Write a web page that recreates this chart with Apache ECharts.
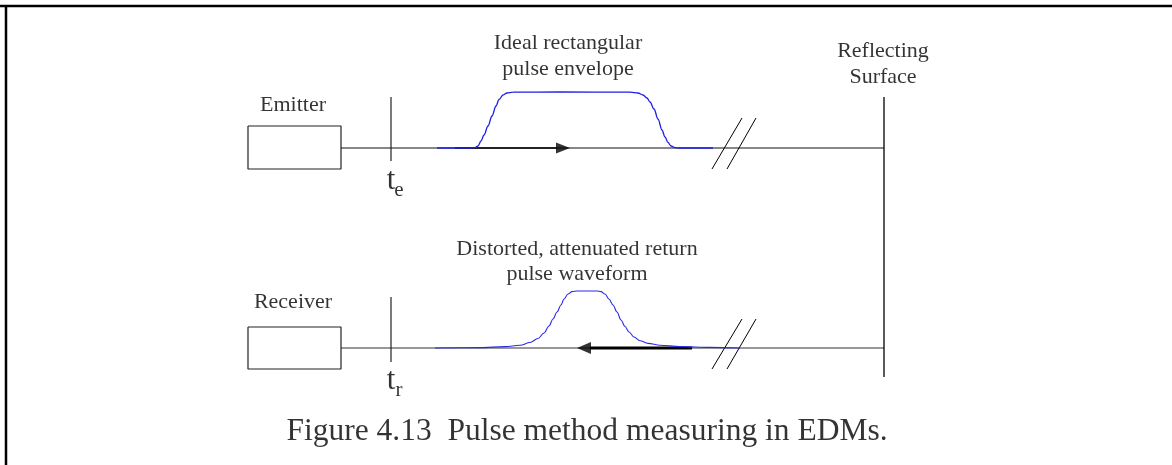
<!DOCTYPE html>
<html>
<head>
<meta charset="utf-8">
<script src="https://cdn.jsdelivr.net/npm/echarts@6/dist/echarts.min.js"></script>
<style>
html,body{margin:0;padding:0;background:#fff;}
#c{width:1172px;height:465px;}
</style>
</head>
<body>
<div id="c"></div>
<script>
// ---- diagram data (in page-pixel units) ----
const frameTop = [[0, 6], [1172, 6]];
const frameLeft = [[6, 6], [6, 465]];
const emitterBox = [[248, 126], [341, 126], [341, 169], [248, 169], [248, 126]];
const receiverBox = [[248, 327], [341, 327], [341, 369], [248, 369], [248, 327]];
const outgoingPath = [[341, 148], [884, 148]];
const returnPath = [[341, 348], [884, 348]];
const reflector = [[884, 97], [884, 377]];
const emitMarker = [[391, 97], [391, 161]];
const recvMarker = [[391, 297], [391, 362]];
const breakTopA = [[712, 169], [742, 118]];
const breakTopB = [[727, 169], [756, 118]];
const breakBotA = [[712, 369], [742, 319]];
const breakBotB = [[727, 369], [756, 319]];
const outgoingShaft = [[455, 148], [557, 148]];
const returnShaft = [[590, 348], [692, 348]];
const outgoingArrowTip = [[563, 148]];
const returnArrowTip = [[584, 348]];

const pulseEnvelope = [
  [437, 148], [470, 148], [475, 147.6], [478, 146], [481, 141], [484, 135], [488, 126],
  [492, 116], [496, 106], [499, 99.5], [503, 95], [507, 93], [513, 92.2], [560, 92],
  [630, 92.2], [638, 93], [643, 95], [647, 98], [650, 102], [654, 109], [658, 119],
  [662, 130], [665, 137], [668, 142.5], [671, 146], [675, 147.6], [680, 148], [713, 148]
];
const returnPulse = [
  [435, 348], [480, 347.6], [505, 346.6], [520, 345.3], [530, 342.5], [538, 338.5],
  [544, 333], [549, 326], [553, 319], [557, 312], [561, 305], [564, 299], [568, 294],
  [572, 291.6], [577, 291], [597, 291], [601, 291.6], [605, 294], [609, 299], [613, 305],
  [617, 312], [621, 320], [625, 326.5], [629, 332], [634, 337], [640, 340.8], [648, 343.4],
  [660, 345.2], [680, 346.6], [710, 347.4], [740, 348]
];

const smallLabels = ['Emitter', 'Receiver', 'Ideal rectangular', 'pulse envelope',
  'Reflecting', 'Surface', 'Distorted, attenuated return', 'pulse waveform'];
const smallLabelAt = [[293, 105.5], [293, 302], [568, 43.5], [568, 69.5],
  [883, 51], [883, 77], [577, 249], [577, 274.5]];
const timeLabels = ['t', 't'];
const timeLabelAt = [[391, 181], [391, 381]];
const timeSubs = ['e', 'r'];
const timeSubAt = [[399, 190], [399, 390]];
const captionText = 'Figure 4.13  Pulse method measuring in EDMs.';
const captionAt = [[587, 432]];

// ---- build chart ----
const FONT = '"Liberation Serif", "Times New Roman", serif';
function seg(points, color, width, z, smooth) {
  return {
    type: 'line', data: points, symbol: 'none', silent: true, animation: false,
    smooth: smooth || false, smoothMonotone: 'x',
    lineStyle: { color: color, width: width, cap: 'butt' }, z: z || 2
  };
}
function texts(list, at, size) {
  return {
    type: 'scatter', symbolSize: 0, silent: true, animation: false, z: 5,
    data: list.map((t, i) => ({
      value: at[i],
      label: {
        show: true, position: 'inside', formatter: t, color: '#000',
        textBorderWidth: 0, fontFamily: FONT, fontSize: size,
        align: 'center', verticalAlign: 'middle'
      }
    }))
  };
}

const series = [
  seg(frameTop, '#000', 2.5, 1),
  seg(frameLeft, '#000', 2.5, 1),
  seg(emitterBox, '#222', 1.2),
  seg(receiverBox, '#222', 1.2),
  seg(outgoingPath, '#111', 1.2),
  seg(returnPath, '#333', 1.2),
  seg(reflector, '#000', 1.3),
  seg(emitMarker, '#222', 1.2),
  seg(recvMarker, '#222', 1.2),
  seg(breakTopA, '#000', 1),
  seg(breakTopB, '#000', 1),
  seg(breakBotA, '#000', 1),
  seg(breakBotB, '#000', 1),
  seg(outgoingShaft, '#000', 1.4, 3),
  seg(returnShaft, '#000', 3, 3),
  seg(pulseEnvelope, '#1f1fe6', 1.3, 4, 0.35),
  seg(returnPulse, '#2a2ae6', 1.1, 4, 0.35),
  {
    type: 'scatter', silent: true, animation: false, z: 6,
    symbol: 'path://M0,0L13,5L0,10Z', symbolSize: [14, 11],
    itemStyle: { color: '#000' }, data: outgoingArrowTip
  },
  {
    type: 'scatter', silent: true, animation: false, z: 6,
    symbol: 'path://M13,0L0,6L13,12Z', symbolSize: [14, 12],
    itemStyle: { color: '#000' }, data: returnArrowTip
  },
  texts(smallLabels, smallLabelAt, 22),
  texts(timeLabels, timeLabelAt, 31),
  texts(timeSubs, timeSubAt, 21),
  texts([captionText], captionAt, 31.5)
];

const chart = echarts.init(document.getElementById('c'), null, { renderer: 'canvas' });
chart.setOption({
  backgroundColor: '#fff',
  animation: false,
  grid: { left: 0, right: 0, top: 0, bottom: 0 },
  xAxis: { type: 'value', min: 0, max: 1172, show: false },
  yAxis: { type: 'value', min: 0, max: 465, inverse: true, show: false },
  series: series
});
</script>
</body>
</html>
